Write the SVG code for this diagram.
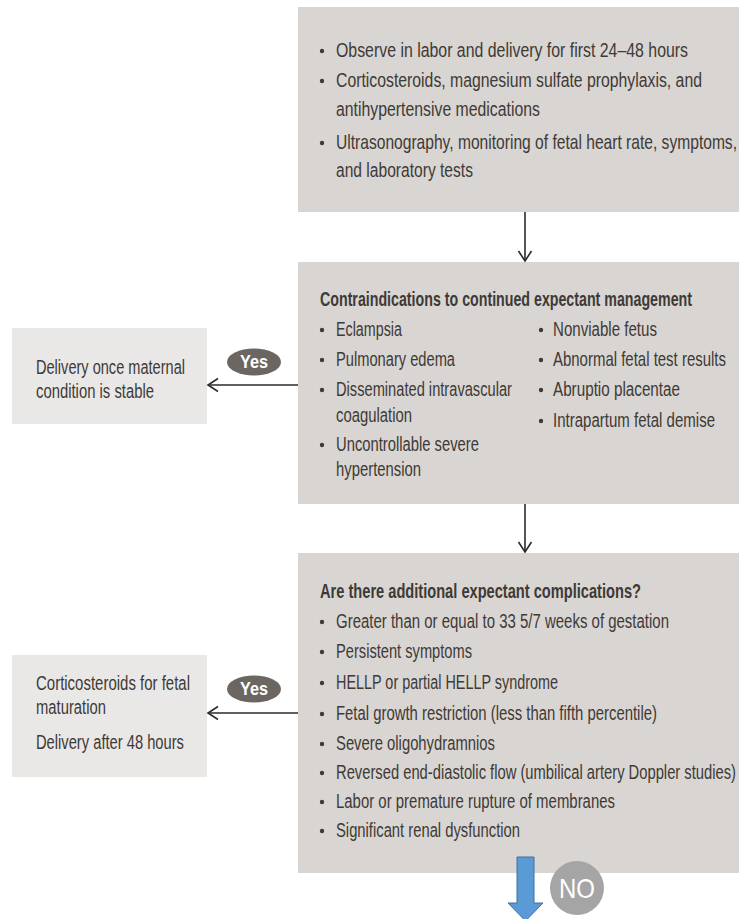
<svg xmlns="http://www.w3.org/2000/svg" width="739" height="919" viewBox="0 0 739 919">
<style>
.box{fill:#d9d5d2}
.side{fill:#e9e8e7}
.t{font-family:"Liberation Sans",Arial,sans-serif;font-size:21px;fill:#3e3a36}
.b{font-weight:bold}
.dot{fill:#3e3a36}
.conn{stroke:#2b2b2b;stroke-width:1.6;fill:none}
.yes{fill:#6b6661}
.yt{font-family:"Liberation Sans",Arial,sans-serif;font-size:18px;font-weight:bold;fill:#ffffff}
.nt{font-family:"Liberation Sans",Arial,sans-serif;font-size:28px;fill:#ffffff}
</style>
<defs>
<marker id="ah" markerUnits="userSpaceOnUse" markerWidth="14" markerHeight="16" viewBox="0 0 14 16" refX="12" refY="8" orient="auto">
<path d="M2,1.5 L12,8 L2,14.5" fill="none" stroke="#2b2b2b" stroke-width="1.6"/>
</marker>
</defs>

<g id="n1">
<rect class="box" x="298" y="7" width="441" height="205"/>
<circle class="dot" cx="322" cy="51" r="2.2"/>
<text class="t" transform="matrix(0.78 0 0 1 336 57)" textLength="451.3" lengthAdjust="spacingAndGlyphs">Observe in labor and delivery for first 24–48 hours</text>
<circle class="dot" cx="322" cy="81" r="2.2"/>
<text class="t" transform="matrix(0.78 0 0 1 336 87)" textLength="469.2" lengthAdjust="spacingAndGlyphs">Corticosteroids, magnesium sulfate prophylaxis, and</text>
<text class="t" transform="matrix(0.78 0 0 1 336 116)" textLength="261.5" lengthAdjust="spacingAndGlyphs">antihypertensive medications</text>
<circle class="dot" cx="322" cy="143" r="2.2"/>
<text class="t" transform="matrix(0.66 0 0 1 336 149)" textLength="607.6" lengthAdjust="spacingAndGlyphs">Ultrasonography, monitoring of fetal heart rate, symptoms,</text>
<text class="t" transform="matrix(0.78 0 0 1 336 177)" textLength="175.6" lengthAdjust="spacingAndGlyphs">and laboratory tests</text>
</g>

<g id="n2">
<rect class="box" x="298" y="262" width="441" height="242"/>
<text class="t b" transform="matrix(0.68 0 0 1 320 306)" textLength="547" lengthAdjust="spacingAndGlyphs">Contraindications to continued expectant management</text>
<circle class="dot" cx="322" cy="330" r="2.2"/>
<text class="t" transform="matrix(0.78 0 0 1 336 336)" textLength="84.6" lengthAdjust="spacingAndGlyphs">Eclampsia</text>
<circle class="dot" cx="322" cy="360" r="2.2"/>
<text class="t" transform="matrix(0.78 0 0 1 336 366)" textLength="152.6" lengthAdjust="spacingAndGlyphs">Pulmonary edema</text>
<circle class="dot" cx="322" cy="390" r="2.2"/>
<text class="t" transform="matrix(0.78 0 0 1 336 396)" textLength="225.6" lengthAdjust="spacingAndGlyphs">Disseminated intravascular</text>
<text class="t" transform="matrix(0.78 0 0 1 336 422)" textLength="97.4" lengthAdjust="spacingAndGlyphs">coagulation</text>
<circle class="dot" cx="322" cy="445" r="2.2"/>
<text class="t" transform="matrix(0.78 0 0 1 336 451)" textLength="183.3" lengthAdjust="spacingAndGlyphs">Uncontrollable severe</text>
<text class="t" transform="matrix(0.78 0 0 1 336 476)" textLength="109" lengthAdjust="spacingAndGlyphs">hypertension</text>
<circle class="dot" cx="541" cy="330" r="2.2"/>
<text class="t" transform="matrix(0.78 0 0 1 553 336)" textLength="133.3" lengthAdjust="spacingAndGlyphs">Nonviable fetus</text>
<circle class="dot" cx="541" cy="360" r="2.2"/>
<text class="t" transform="matrix(0.62 0 0 1 553 366)" textLength="279" lengthAdjust="spacingAndGlyphs">Abnormal fetal test results</text>
<circle class="dot" cx="541" cy="390" r="2.2"/>
<text class="t" transform="matrix(0.78 0 0 1 553 396)" textLength="162.8" lengthAdjust="spacingAndGlyphs">Abruptio placentae</text>
<circle class="dot" cx="541" cy="421" r="2.2"/>
<text class="t" transform="matrix(0.78 0 0 1 553 427)" textLength="207.7" lengthAdjust="spacingAndGlyphs">Intrapartum fetal demise</text>
</g>

<g id="n3">
<rect class="box" x="298" y="553" width="441" height="320"/>
<text class="t b" transform="matrix(0.68 0 0 1 320 598)" textLength="472" lengthAdjust="spacingAndGlyphs">Are there additional expectant complications?</text>
<circle class="dot" cx="322" cy="622" r="2.2"/>
<text class="t" transform="matrix(0.78 0 0 1 336 628)" textLength="426.9" lengthAdjust="spacingAndGlyphs">Greater than or equal to 33 5/7 weeks of gestation</text>
<circle class="dot" cx="322" cy="652" r="2.2"/>
<text class="t" transform="matrix(0.78 0 0 1 336 658)" textLength="174.4" lengthAdjust="spacingAndGlyphs">Persistent symptoms</text>
<circle class="dot" cx="322" cy="683" r="2.2"/>
<text class="t" transform="matrix(0.78 0 0 1 336 689)" textLength="284.6" lengthAdjust="spacingAndGlyphs">HELLP or partial HELLP syndrome</text>
<circle class="dot" cx="322" cy="714" r="2.2"/>
<text class="t" transform="matrix(0.78 0 0 1 336 720)" textLength="411.5" lengthAdjust="spacingAndGlyphs">Fetal growth restriction (less than fifth percentile)</text>
<circle class="dot" cx="322" cy="744" r="2.2"/>
<text class="t" transform="matrix(0.78 0 0 1 336 750)" textLength="203.8" lengthAdjust="spacingAndGlyphs">Severe oligohydramnios</text>
<circle class="dot" cx="322" cy="773" r="2.2"/>
<text class="t" transform="matrix(0.64 0 0 1 336 779)" textLength="625" lengthAdjust="spacingAndGlyphs">Reversed end-diastolic flow (umbilical artery Doppler studies)</text>
<circle class="dot" cx="322" cy="802" r="2.2"/>
<text class="t" transform="matrix(0.78 0 0 1 336 808)" textLength="357.7" lengthAdjust="spacingAndGlyphs">Labor or premature rupture of membranes</text>
<circle class="dot" cx="322" cy="831" r="2.2"/>
<text class="t" transform="matrix(0.78 0 0 1 336 837)" textLength="235.9" lengthAdjust="spacingAndGlyphs">Significant renal dysfunction</text>
</g>

<g id="n4">
<rect class="side" x="12" y="328" width="195" height="96"/>
<text class="t" transform="matrix(0.78 0 0 1 36 374)" textLength="191" lengthAdjust="spacingAndGlyphs">Delivery once maternal</text>
<text class="t" transform="matrix(0.78 0 0 1 36 398)" textLength="151.3" lengthAdjust="spacingAndGlyphs">condition is stable</text>
</g>

<g id="n5">
<rect class="side" x="12" y="655" width="195" height="122"/>
<text class="t" transform="matrix(0.78 0 0 1 36 690)" textLength="197.4" lengthAdjust="spacingAndGlyphs">Corticosteroids for fetal</text>
<text class="t" transform="matrix(0.78 0 0 1 36 714)" textLength="89.7" lengthAdjust="spacingAndGlyphs">maturation</text>
<text class="t" transform="matrix(0.78 0 0 1 36 749)" textLength="189.7" lengthAdjust="spacingAndGlyphs">Delivery after 48 hours</text>
</g>

<g id="connectors">
<line class="conn" x1="525" y1="212" x2="525" y2="261" marker-end="url(#ah)"/>
<line class="conn" x1="525" y1="504" x2="525" y2="552" marker-end="url(#ah)"/>
<line class="conn" x1="298" y1="385" x2="208" y2="385" marker-end="url(#ah)"/>
<line class="conn" x1="298" y1="713" x2="208" y2="713" marker-end="url(#ah)"/>
<polygon points="517,857 534,857 534,903 543,903 525.5,921 508,903 517,903" fill="#5b9bd5" stroke="#41719c" stroke-width="1"/>
</g>

<g id="yes1">
<ellipse class="yes" cx="254" cy="362" rx="27" ry="13.5"/>
<text class="yt" transform="matrix(0.8 0 0 1 254 368)" text-anchor="middle" textLength="35" lengthAdjust="spacingAndGlyphs">Yes</text>
</g>
<g id="yes2">
<ellipse class="yes" cx="254" cy="689" rx="27" ry="13.5"/>
<text class="yt" transform="matrix(0.8 0 0 1 254 695)" text-anchor="middle" textLength="35" lengthAdjust="spacingAndGlyphs">Yes</text>
</g>
<g id="no">
<circle cx="577" cy="888" r="27" fill="#a5a5a5"/>
<text class="nt" transform="matrix(0.85 0 0 1 577 898)" text-anchor="middle" textLength="42.4" lengthAdjust="spacingAndGlyphs">NO</text>
</g>
</svg>
